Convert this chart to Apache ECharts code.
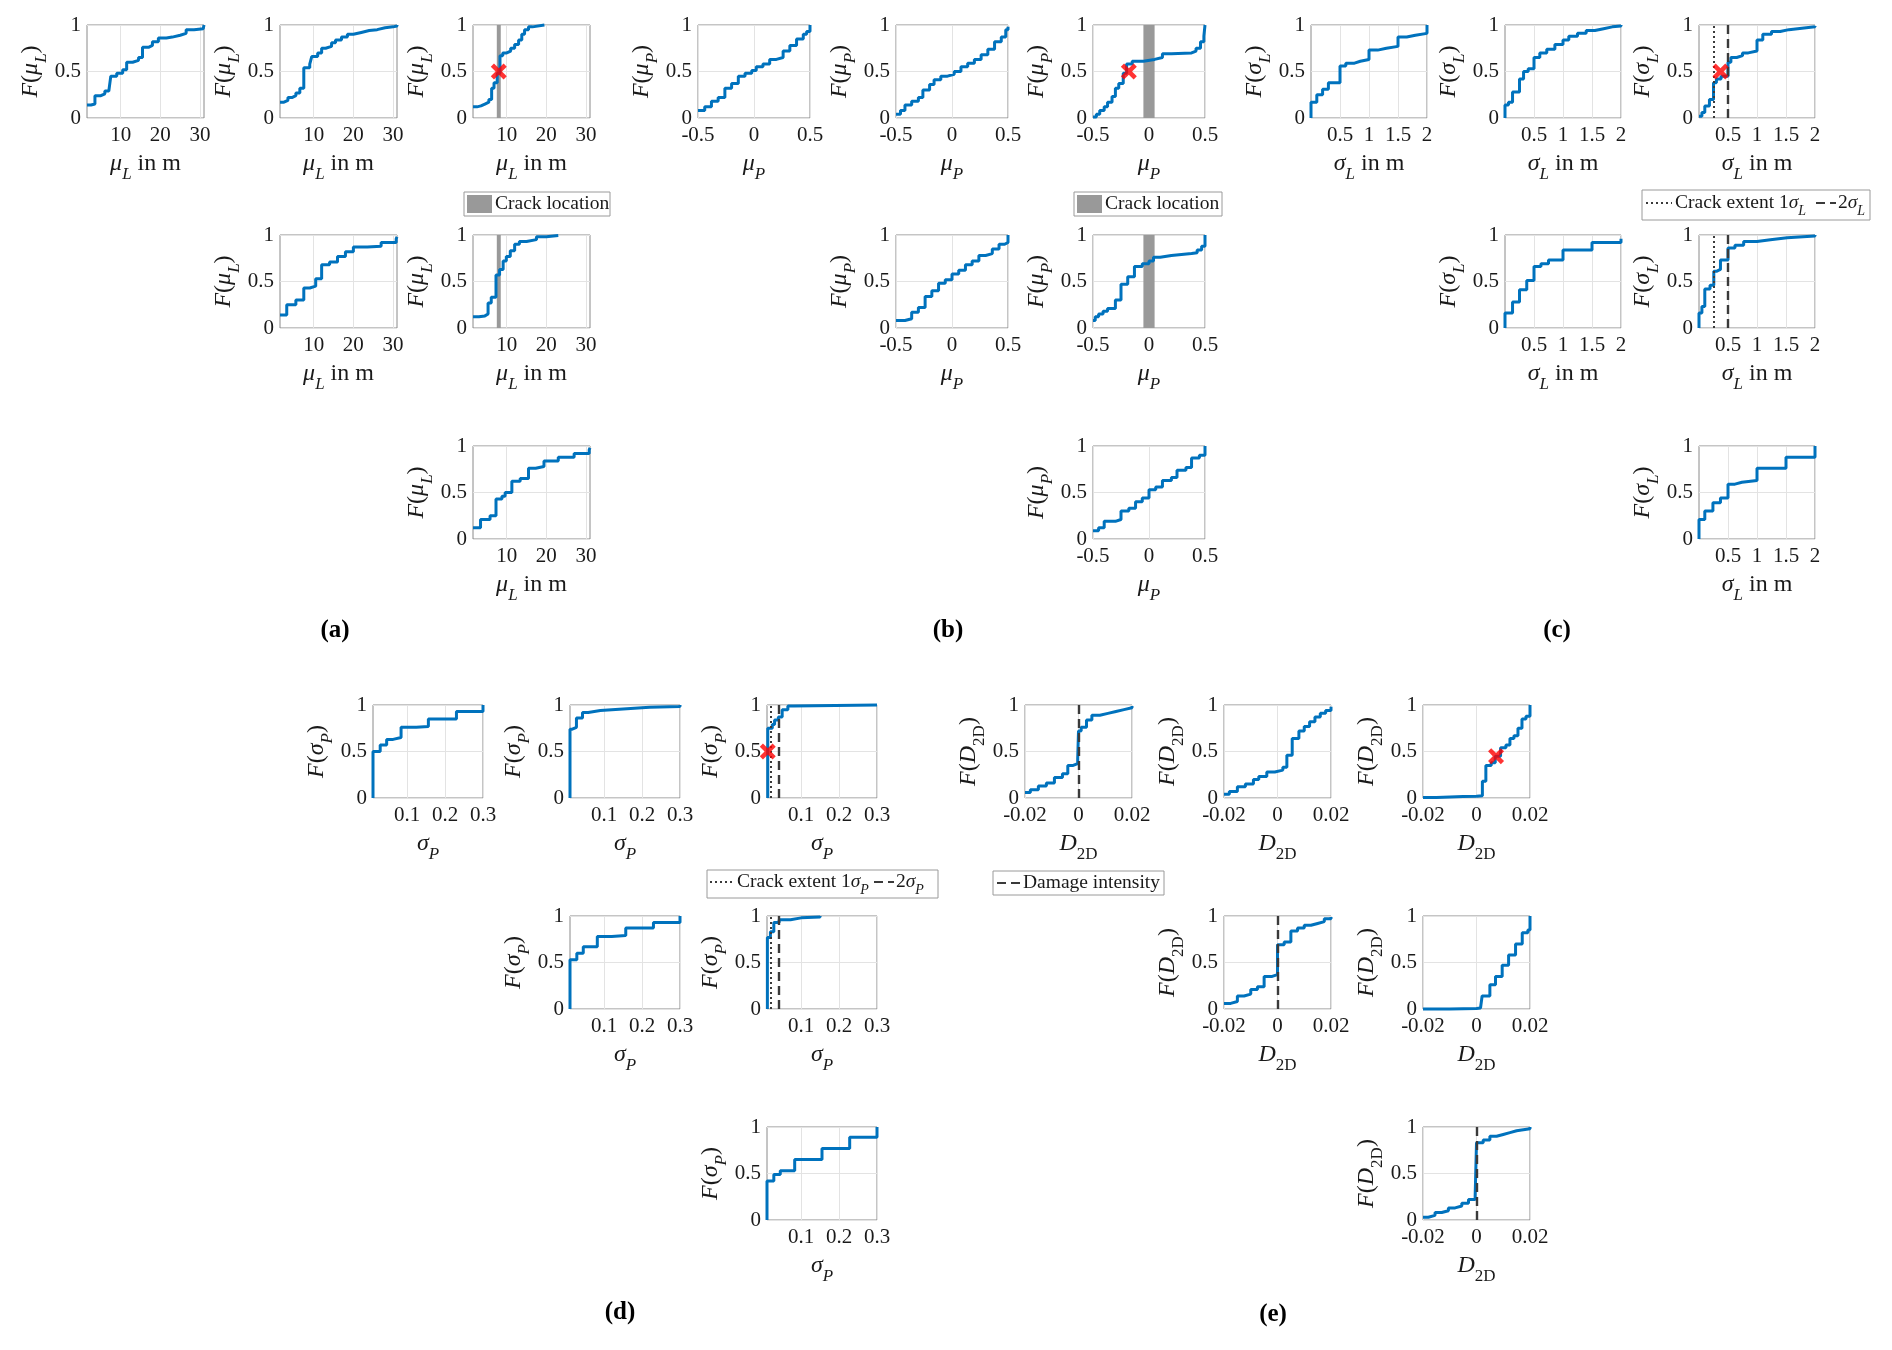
<!DOCTYPE html>
<html>
<head>
<meta charset="utf-8">
<script src="https://cdn.jsdelivr.net/npm/echarts@6/dist/echarts.min.js"></script>
<style>
  html, body { margin: 0; padding: 0; background: #fff; }
  #chart { width: 1892px; height: 1350px; }
</style>
</head>
<body>
<div id="chart"></div>
<script>
// ---- tick labels ----
const ticksA = [10, 20, 30];
const ticksB = [-0.5, 0, 0.5];
const ticksC = [0.5, 1, 1.5, 2];
const ticksD = [0.1, 0.2, 0.3];
const ticksE = [-0.02, 0, 0.02];

// ---- (a) mu_L ----
const a1X = [1.5, 2.5, 3.5, 5.0, 6.0, 7.0, 7.5, 9.0, 10.5, 11.5, 13.0, 14.5, 15.5, 17.0, 18.0, 19.5, 21.5, 23.0, 25.0, 26.5, 28.5, 30.8, 31];
const a1Y = [0.14, 0.15, 0.24, 0.26, 0.29, 0.31, 0.45, 0.48, 0.52, 0.60, 0.62, 0.65, 0.76, 0.78, 0.82, 0.86, 0.87, 0.89, 0.91, 0.95, 0.96, 0.97, 1.0];
const a2X = [1.5, 2.5, 3.5, 4.5, 5.5, 6.5, 7.5, 9.0, 9.5, 11.0, 12.0, 13.0, 14.5, 15.5, 17.0, 18.5, 20.0, 22.0, 24.0, 26.0, 28.0, 30.0, 31];
const a2Y = [0.17, 0.19, 0.22, 0.24, 0.27, 0.32, 0.54, 0.58, 0.66, 0.70, 0.75, 0.77, 0.81, 0.84, 0.87, 0.90, 0.92, 0.94, 0.95, 0.97, 0.98, 0.99, 1.0];
const a3X = [1.5, 2.5, 3.5, 4.5, 5.5, 6.2, 6.8, 7.6, 8.3, 9.0, 10.0, 11.0, 12.0, 13.0, 13.8, 14.5, 15.5, 16.5, 19.5];
const a3Y = [0.12, 0.13, 0.15, 0.17, 0.20, 0.32, 0.38, 0.48, 0.67, 0.70, 0.72, 0.75, 0.79, 0.84, 0.90, 0.95, 0.98, 1.0, 1.0];
const a4X = [1.5, 3.2, 5.5, 7.5, 9.0, 10.5, 12.0, 14.0, 16.0, 18.0, 20.0, 23.5, 27.0, 30.8, 31];
const a4Y = [0.14, 0.25, 0.30, 0.43, 0.45, 0.53, 0.68, 0.71, 0.77, 0.82, 0.87, 0.88, 0.92, 0.96, 0.98];
const a5X = [1.5, 3.0, 4.5, 5.3, 6.1, 7.3, 8.2, 9.1, 9.9, 10.9, 12.0, 13.2, 15.0, 17.5, 20.0, 23.0];
const a5Y = [0.12, 0.13, 0.15, 0.27, 0.33, 0.57, 0.63, 0.72, 0.77, 0.83, 0.90, 0.93, 0.95, 0.98, 0.995, 1.0];
const a6X = [1.5, 3.4, 5.8, 7.3, 8.8, 9.6, 11.3, 13.4, 15.5, 17.3, 19.4, 23.0, 27.0, 30.8, 31];
const a6Y = [0.12, 0.21, 0.25, 0.43, 0.46, 0.50, 0.62, 0.65, 0.76, 0.78, 0.84, 0.88, 0.92, 0.96, 0.98];
const crackBandA = [7.5, 8.5];
const crossA = [8, 0.5];

// ---- (b) mu_P ----
const b1X = [-0.5, -0.44, -0.38, -0.32, -0.26, -0.2, -0.14, -0.08, -0.02, 0.02, 0.08, 0.14, 0.2, 0.26, 0.32, 0.38, 0.44, 0.47, 0.5];
const b1Y = [0.08, 0.12, 0.18, 0.22, 0.32, 0.37, 0.45, 0.48, 0.51, 0.55, 0.58, 0.63, 0.65, 0.72, 0.78, 0.85, 0.90, 0.93, 1.0];
const b2X = [-0.5, -0.46, -0.42, -0.36, -0.30, -0.26, -0.2, -0.16, -0.1, -0.04, 0.02, 0.08, 0.14, 0.2, 0.26, 0.32, 0.38, 0.44, 0.48, 0.5];
const b2Y = [0.04, 0.08, 0.14, 0.18, 0.22, 0.30, 0.36, 0.41, 0.45, 0.47, 0.50, 0.55, 0.59, 0.63, 0.68, 0.74, 0.82, 0.87, 0.95, 0.98];
const b3X = [-0.5, -0.47, -0.44, -0.4, -0.37, -0.33, -0.3, -0.27, -0.23, -0.2, -0.15, -0.05, 0.05, 0.12, 0.2, 0.38, 0.42, 0.46, 0.49, 0.5];
const b3Y = [0.01, 0.04, 0.08, 0.12, 0.17, 0.23, 0.32, 0.37, 0.48, 0.58, 0.61, 0.63, 0.65, 0.69, 0.70, 0.72, 0.75, 0.82, 0.88, 1.0];
const b4X = [-0.5, -0.42, -0.36, -0.3, -0.24, -0.18, -0.12, -0.06, 0, 0.06, 0.12, 0.18, 0.24, 0.3, 0.36, 0.42, 0.47, 0.5];
const b4Y = [0.08, 0.10, 0.17, 0.22, 0.34, 0.40, 0.48, 0.52, 0.58, 0.62, 0.68, 0.72, 0.78, 0.80, 0.85, 0.90, 0.92, 1.0];
const b5X = [-0.5, -0.48, -0.45, -0.41, -0.37, -0.3, -0.25, -0.19, -0.13, -0.06, 0.0, 0.04, 0.1, 0.2, 0.38, 0.43, 0.47, 0.5];
const b5Y = [0.08, 0.12, 0.15, 0.18, 0.21, 0.30, 0.47, 0.55, 0.66, 0.69, 0.72, 0.76, 0.78, 0.80, 0.81, 0.84, 0.88, 1.0];
const b6X = [-0.5, -0.45, -0.4, -0.3, -0.25, -0.18, -0.12, -0.06, 0.0, 0.06, 0.12, 0.2, 0.25, 0.33, 0.38, 0.45, 0.5];
const b6Y = [0.09, 0.12, 0.19, 0.21, 0.30, 0.33, 0.40, 0.44, 0.53, 0.56, 0.63, 0.66, 0.74, 0.77, 0.87, 0.90, 1.0];
const crackBandB = [-0.05, 0.05];
const crossB = [-0.18, 0.5];

// ---- (c) sigma_L ----
const c1X = [0, 0, 0.1, 0.2, 0.3, 0.5, 0.6, 0.75, 0.85, 1.0, 1.15, 1.3, 1.5, 1.65, 1.8, 2.0];
const c1Y = [0, 0.17, 0.25, 0.31, 0.38, 0.56, 0.59, 0.61, 0.63, 0.73, 0.75, 0.77, 0.87, 0.89, 0.91, 1.0];
const c2X = [0, 0, 0.06, 0.13, 0.25, 0.32, 0.4, 0.5, 0.6, 0.72, 0.86, 1.0, 1.1, 1.25, 1.4, 1.55, 1.7, 1.85, 2.0];
const c2Y = [0, 0.14, 0.17, 0.28, 0.42, 0.50, 0.53, 0.65, 0.70, 0.74, 0.79, 0.84, 0.88, 0.91, 0.94, 0.96, 0.98, 0.99, 1.0];
const c3X = [0, 0.05, 0.1, 0.18, 0.25, 0.3, 0.38, 0.5, 0.55, 0.65, 0.75, 0.85, 1.0, 1.1, 1.25, 1.4, 1.55, 1.7, 1.85, 2.0];
const c3Y = [0.02, 0.06, 0.13, 0.20, 0.38, 0.42, 0.45, 0.60, 0.65, 0.67, 0.70, 0.72, 0.84, 0.90, 0.93, 0.95, 0.96, 0.97, 0.98, 0.99];
const c4X = [0, 0, 0.13, 0.25, 0.375, 0.5, 0.62, 0.75, 1.0, 1.5, 2.0];
const c4Y = [0, 0.16, 0.28, 0.41, 0.51, 0.66, 0.69, 0.73, 0.84, 0.92, 0.96];
const c5X = [0, 0, 0.05, 0.1, 0.19, 0.255, 0.3, 0.37, 0.5, 0.62, 0.77, 1.0, 1.23, 1.52, 2.0];
const c5Y = [0, 0.16, 0.23, 0.42, 0.46, 0.61, 0.63, 0.73, 0.86, 0.89, 0.93, 0.95, 0.97, 0.99, 1.0];
const c6X = [0, 0, 0.1, 0.24, 0.37, 0.5, 0.62, 0.74, 1.0, 1.5, 2.0];
const c6Y = [0, 0.21, 0.30, 0.39, 0.44, 0.59, 0.61, 0.63, 0.76, 0.88, 1.0];
const extentC = [0.25, 0.5];
const crossC = [0.37, 0.5];

// ---- (d) sigma_P ----
const d1X = [0.01, 0.01, 0.029, 0.046, 0.063, 0.084, 0.124, 0.156, 0.23, 0.3];
const d1Y = [0, 0.50, 0.57, 0.63, 0.65, 0.76, 0.77, 0.85, 0.93, 1.0];
const d2X = [0.01, 0.01, 0.016, 0.027, 0.043, 0.058, 0.09, 0.16, 0.22, 0.3];
const d2Y = [0, 0.74, 0.76, 0.86, 0.92, 0.94, 0.96, 0.975, 0.985, 1.0];
const d3X = [0.012, 0.012, 0.024, 0.03, 0.04, 0.05, 0.065, 0.08, 0.3];
const d3Y = [0, 0.75, 0.79, 0.84, 0.87, 0.95, 0.99, 1.0, 1.0];
const d4X = [0.01, 0.01, 0.028, 0.045, 0.082, 0.12, 0.157, 0.23, 0.3];
const d4Y = [0, 0.53, 0.60, 0.67, 0.78, 0.79, 0.87, 0.93, 1.0];
const d5X = [0.011, 0.011, 0.019, 0.028, 0.042, 0.072, 0.1, 0.15];
const d5Y = [0, 0.77, 0.83, 0.93, 0.96, 0.98, 0.99, 1.0];
const d6X = [0.01, 0.01, 0.028, 0.045, 0.083, 0.155, 0.228, 0.3];
const d6Y = [0, 0.42, 0.49, 0.53, 0.65, 0.77, 0.89, 1.0];
const extentD = [0.02, 0.04];
const crossD = [0.012, 0.5];

// ---- (e) D_2D ----
const e1X = [-0.02, -0.018, -0.015, -0.012, -0.009, -0.006, -0.004, -0.002, -0.0003, 0, 0.001, 0.003, 0.005, 0.008, 0.011, 0.014, 0.017, 0.02];
const e1Y = [0.06, 0.09, 0.13, 0.16, 0.22, 0.26, 0.35, 0.37, 0.42, 0.72, 0.76, 0.84, 0.89, 0.91, 0.93, 0.95, 0.97, 0.99];
const e2X = [-0.02, -0.018, -0.015, -0.012, -0.009, -0.007, -0.004, -0.001, 0.002, 0.0035, 0.0055, 0.008, 0.01, 0.012, 0.014, 0.016, 0.018, 0.02];
const e2Y = [0.04, 0.07, 0.12, 0.15, 0.20, 0.23, 0.28, 0.30, 0.33, 0.46, 0.64, 0.72, 0.77, 0.82, 0.87, 0.91, 0.94, 0.98];
const e3X = [-0.02, -0.015, -0.01, -0.005, 0.0, 0.0022, 0.0035, 0.0055, 0.007, 0.009, 0.011, 0.0125, 0.014, 0.0155, 0.017, 0.0185, 0.02];
const e3Y = [0.005, 0.01, 0.015, 0.02, 0.025, 0.18, 0.35, 0.38, 0.45, 0.54, 0.57, 0.64, 0.67, 0.75, 0.85, 0.88, 1.0];
const e4X = [-0.02, -0.0175, -0.015, -0.0125, -0.01, -0.0075, -0.005, -0.002, 0, 0.0025, 0.005, 0.0075, 0.01, 0.0125, 0.015, 0.0175, 0.02];
const e4Y = [0.06, 0.08, 0.14, 0.16, 0.21, 0.24, 0.35, 0.37, 0.69, 0.72, 0.84, 0.87, 0.90, 0.92, 0.94, 0.97, 0.99];
const e5X = [-0.02, -0.01, 0.0, 0.0015, 0.0021, 0.005, 0.0071, 0.0096, 0.012, 0.0146, 0.0171, 0.0192, 0.02];
const e5Y = [0.0, 0.005, 0.01, 0.02, 0.14, 0.26, 0.35, 0.47, 0.58, 0.70, 0.82, 0.85, 1.0];
const e6X = [-0.02, -0.018, -0.0155, -0.013, -0.0105, -0.008, -0.0055, -0.003, -0.0005, 0, 0.0025, 0.005, 0.0075, 0.01, 0.0125, 0.015, 0.0175, 0.02];
const e6Y = [0.03, 0.05, 0.08, 0.10, 0.13, 0.15, 0.18, 0.22, 0.26, 0.83, 0.86, 0.90, 0.92, 0.94, 0.96, 0.97, 0.98, 1.0];
const damageE = 0;
const crossE = [0.0073, 0.45];

// ---- styling / layout ----
const FONT = '"Liberation Serif", "Times New Roman", serif';
const TXT = '#1a1a1a';
const BLUE = '#0072BD';
const BAND = '#999999';
const DARK = '#3a3a3a';
const X_PATH = 'path://M2,0 L5,3 L8,0 L10,2 L7,5 L10,8 L8,10 L5,7 L2,10 L0,8 L3,5 L0,2 Z';

const rich = {
  it: { fontStyle: 'italic', fontFamily: FONT, fontSize: 24, color: TXT },
  sub: { fontStyle: 'italic', fontFamily: FONT, fontSize: 17, color: TXT, padding: [22, 0, 0, 0] },
  subr: { fontFamily: FONT, fontSize: 17, color: TXT, padding: [22, 0, 0, 0] }
};

const layout = {
  a: { cols: [87, 280, 473], rows: [25, 235, 446], w: 117, h: 93 },
  b: { cols: [698, 896, 1093], rows: [25, 235, 446], w: 112, h: 93 },
  c: { cols: [1311, 1505, 1699], rows: [25, 235, 446], w: 116, h: 93 },
  d: { cols: [373, 570, 767], rows: [705, 916, 1127], w: 110, h: 93 },
  e: { cols: [1025, 1224, 1423], rows: [705, 916, 1127], w: 107, h: 93 }
};
const cells = [[0, 0], [0, 1], [0, 2], [1, 1], [1, 2], [2, 2]];

const axisSpec = {
  a: { min: 1.5, max: 31, ticks: ticksA, xName: '{it|μ}{sub|L} in m', yName: '{it|F}({it|μ}{sub|L})' },
  b: { min: -0.5, max: 0.5, ticks: ticksB, xName: '{it|μ}{sub|P}', yName: '{it|F}({it|μ}{sub|P})' },
  c: { min: 0, max: 2, ticks: ticksC, xName: '{it|σ}{sub|L} in m', yName: '{it|F}({it|σ}{sub|L})' },
  d: { min: 0.01, max: 0.3, ticks: ticksD, xName: '{it|σ}{sub|P}', yName: '{it|F}({it|σ}{sub|P})' },
  e: { min: -0.02, max: 0.02, ticks: ticksE, xName: '{it|D}{subr|2D}', yName: '{it|F}({it|D}{subr|2D})' }
};

const groupData = {
  a: [[a1X, a1Y], [a2X, a2Y], [a3X, a3Y], [a4X, a4Y], [a5X, a5Y], [a6X, a6Y]],
  b: [[b1X, b1Y], [b2X, b2Y], [b3X, b3Y], [b4X, b4Y], [b5X, b5Y], [b6X, b6Y]],
  c: [[c1X, c1Y], [c2X, c2Y], [c3X, c3Y], [c4X, c4Y], [c5X, c5Y], [c6X, c6Y]],
  d: [[d1X, d1Y], [d2X, d2Y], [d3X, d3Y], [d4X, d4Y], [d5X, d5Y], [d6X, d6Y]],
  e: [[e1X, e1Y], [e2X, e2Y], [e3X, e3Y], [e4X, e4Y], [e5X, e5Y], [e6X, e6Y]]
};

// overlays, keyed by group + panel number (1..6)
const extras = {
  a3: { band: crackBandA, cross: crossA },
  a5: { band: crackBandA },
  b3: { band: crackBandB, cross: crossB },
  b5: { band: crackBandB },
  c3: { dotted: extentC[0], dashed: extentC[1], cross: crossC },
  c5: { dotted: extentC[0], dashed: extentC[1] },
  d3: { dotted: extentD[0], dashed: extentD[1], cross: crossD },
  d5: { dotted: extentD[0], dashed: extentD[1] },
  e1: { dashed: damageE },
  e3: { cross: crossE },
  e4: { dashed: damageE },
  e6: { dashed: damageE }
};

const pts = (xs, ys) => xs.map((x, i) => [x, ys[i]]);

const grids = [], xAxes = [], yAxes = [], series = [];

Object.keys(layout).forEach(g => {
  const L = layout[g];
  const A = axisSpec[g];
  groupData[g].forEach((d, k) => {
    const [r, c] = cells[k];
    const idx = grids.length;
    const data = pts(d[0], d[1]);
    const ex = extras[g + (k + 1)] || {};

    grids.push({
      left: L.cols[c], top: L.rows[r], width: L.w, height: L.h,
      show: true, borderColor: '#8a8a8a', borderWidth: 1,
      outerBoundsMode: 'none'
    });
    xAxes.push({
      gridIndex: idx, type: 'value', min: A.min, max: A.max,
      axisLine: { show: false },
      axisTick: { show: false, customValues: A.ticks },
      axisLabel: {
        customValues: A.ticks, margin: 7, fontSize: 21, fontFamily: FONT, color: TXT,
        showMinLabel: true, showMaxLabel: true, formatter: v => String(v)
      },
      splitLine: { show: true, lineStyle: { color: '#e3e3e3', width: 1 } },
      name: A.xName, nameLocation: 'middle', nameGap: 26,
      nameTextStyle: { fontSize: 24, fontFamily: FONT, color: TXT, rich: rich }
    });
    yAxes.push({
      gridIndex: idx, type: 'value', min: 0, max: 1, interval: 0.5,
      axisLine: { show: false },
      axisTick: { show: false },
      axisLabel: { margin: 6, fontSize: 21, fontFamily: FONT, color: TXT, formatter: v => String(v) },
      splitLine: { show: true, lineStyle: { color: '#e3e3e3', width: 1 } },
      name: A.yName, nameLocation: 'middle', nameGap: 37,
      nameTextStyle: { fontSize: 24, fontFamily: FONT, color: TXT, rich: rich }
    });

    if (ex.band) {
      series.push({
        type: 'line', xAxisIndex: idx, yAxisIndex: idx, data: data, z: 1,
        showSymbol: false, silent: true, lineStyle: { opacity: 0 },
        markArea: {
          silent: true, itemStyle: { color: BAND, opacity: 1 },
          data: [[{ xAxis: ex.band[0] }, { xAxis: ex.band[1] }]]
        }
      });
    }

    series.push({
      type: 'line', xAxisIndex: idx, yAxisIndex: idx, data: data, step: 'end', z: 3,
      showSymbol: false, silent: true, clip: false,
      lineStyle: { color: BLUE, width: 3 }
    });

    const lines = [];
    if (ex.dotted !== undefined) lines.push({ xAxis: ex.dotted, lineStyle: { type: [2, 3], color: DARK, width: 2 } });
    if (ex.dashed !== undefined) lines.push({ xAxis: ex.dashed, lineStyle: { type: [9, 5], color: DARK, width: 2.4 } });
    if (lines.length) {
      series.push({
        type: 'line', xAxisIndex: idx, yAxisIndex: idx, data: data, z: 4,
        showSymbol: false, silent: true, lineStyle: { opacity: 0 },
        markLine: { silent: true, symbol: 'none', label: { show: false }, data: lines }
      });
    }

    if (ex.cross) {
      series.push({
        type: 'scatter', xAxisIndex: idx, yAxisIndex: idx, data: [ex.cross], z: 5,
        symbol: X_PATH, symbolSize: 16, silent: true,
        itemStyle: { color: '#ff0000' }
      });
    }
  });
});

// ---- legends and panel captions ----
const legendText = (x, y, text) => ({
  type: 'text', x: x, y: y,
  style: {
    text: text, fontFamily: FONT, fontSize: 19.5, fill: TXT, verticalAlign: 'middle',
    rich: {
      it: { fontStyle: 'italic', fontFamily: FONT, fontSize: 19.5, fill: TXT },
      sub: { fontStyle: 'italic', fontFamily: FONT, fontSize: 14, fill: TXT, padding: [16, 0, 0, 0] }
    }
  }
});
const box = (x, y, w, h) => ({
  type: 'rect', shape: { x: x, y: y, width: w, height: h },
  style: { fill: '#fff', stroke: '#9a9a9a', lineWidth: 1 }
});
const seg = (x1, x2, y, dash) => ({
  type: 'line', shape: { x1: x1, y1: y, x2: x2, y2: y },
  style: { stroke: DARK, lineWidth: 2, lineDash: dash }
});
const caption = (x, y, t) => ({
  type: 'text', x: x, y: y,
  style: { text: t, fontFamily: FONT, fontSize: 25, fontWeight: 'bold', fill: '#000', align: 'center', verticalAlign: 'middle' }
});

const graphic = [
  box(464, 192, 146, 24),
  { type: 'rect', shape: { x: 467, y: 195, width: 25, height: 18 }, style: { fill: BAND } },
  legendText(495, 204, 'Crack location'),

  box(1074, 192, 148, 24),
  { type: 'rect', shape: { x: 1077, y: 195, width: 25, height: 18 }, style: { fill: BAND } },
  legendText(1105, 204, 'Crack location'),

  box(1642, 190, 228, 30),
  seg(1646, 1672, 203, [2, 3]),
  legendText(1675, 203, 'Crack extent 1{it|σ}{sub|L}'),
  seg(1816, 1836, 203, [9, 5]),
  legendText(1838, 203, '2{it|σ}{sub|L}'),

  box(707, 870, 231, 28),
  seg(710, 735, 882, [2, 3]),
  legendText(737, 882, 'Crack extent 1{it|σ}{sub|P}'),
  seg(874, 894, 882, [9, 5]),
  legendText(896, 882, '2{it|σ}{sub|P}'),

  box(993, 871, 171, 24),
  seg(997, 1020, 883, [9, 5]),
  legendText(1023, 883, 'Damage intensity'),

  caption(335, 631, '(a)'),
  caption(948, 631, '(b)'),
  caption(1557, 631, '(c)'),
  caption(620, 1313, '(d)'),
  caption(1273, 1315, '(e)')
];

const chart = echarts.init(document.getElementById('chart'));
chart.setOption({
  animation: false,
  backgroundColor: '#fff',
  textStyle: { fontFamily: FONT },
  grid: grids,
  xAxis: xAxes,
  yAxis: yAxes,
  series: series,
  graphic: graphic
});
</script>
</body>
</html>
